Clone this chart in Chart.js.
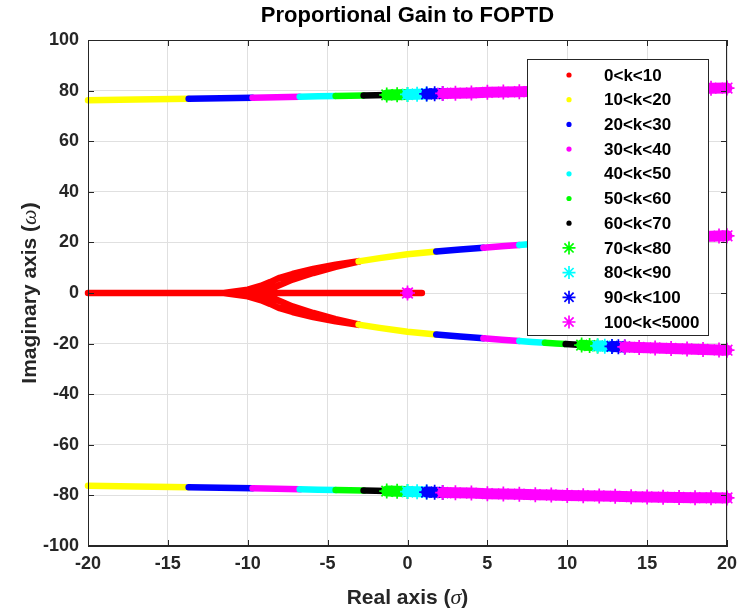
<!DOCTYPE html>
<html>
<head>
<meta charset="utf-8">
<script src="https://cdn.jsdelivr.net/npm/chart.js@4.4.1/dist/chart.umd.min.js"></script>
<style>
  html, body { margin: 0; padding: 0; background: #fff; }
</style>
</head>
<body>
<canvas id="locus" width="739" height="611"></canvas>
<script>
// k ranges and their colours (as in the legend)
const kRanges = ['0<k<10', '10<k<20', '20<k<30', '30<k<40', '40<k<50', '50<k<60',
  '60<k<70', '70<k<80', '80<k<90', '90<k<100', '100<k<5000'];
const rangeColors = ['#ff0000', '#ffff00', '#0000ff', '#ff00ff', '#00ffff', '#00ff00',
  '#000000', '#00ff00', '#00ffff', '#0000ff', '#ff00ff'];
const starFrom = 7; // from 70<k<80 on the roots are marked with '*'

const xTicks = [-20, -15, -10, -5, 0, 5, 10, 15, 20];
const yTicks = [-100, -80, -60, -40, -20, 0, 20, 40, 60, 80, 100];

// high frequency branch, upper (w ~ 78)
const topX = [-20, -17, -13.7, -11.7, -9.7, -8.2, -6.75, -5.6, -4.5, -3.6, -2.75, -2, -1.3, -0.65, 0,
  0.6, 1.2, 1.7, 2.2, 3, 4, 5, 6, 7, 8, 9, 10, 11, 12, 13, 14, 15, 16, 17, 18, 19, 20];
const topY = [76.2, 76.5, 76.8, 77.0, 77.2, 77.4, 77.6, 77.8, 77.9, 78.0, 78.1, 78.2, 78.3, 78.4, 78.5,
  78.6, 78.7, 78.8, 78.9, 79.0, 79.1, 79.3, 79.4, 79.55, 79.7, 79.85, 80.0, 80.1, 80.2, 80.35, 80.5,
  80.6, 80.7, 80.8, 80.9, 80.95, 81.0];
const topStart = 1;
const topBreaks = [-13.7, -9.7, -6.75, -4.5, -2.75, -1.3, 0, 1.2, 2.2];

// high frequency branch, lower
const botX = topX;
const botY = [-76.2, -76.5, -76.8, -77.0, -77.2, -77.4, -77.6, -77.8, -77.9, -78.0, -78.1, -78.2, -78.3, -78.4, -78.5,
  -78.6, -78.7, -78.8, -78.9, -79.0, -79.1, -79.3, -79.4, -79.55, -79.7, -79.85, -80.0, -80.1, -80.2, -80.35, -80.5,
  -80.6, -80.7, -80.8, -80.9, -80.95, -81.0];

// dominant pair leaving the real axis: the red fan (outer and inner edge of the dense part)
const fanOuterX = [-11.5, -10, -9.2, -8.6, -8, -7.2, -5.9, -4.5, -3.06];
const fanOuterUpY = [0, 1.3, 2.8, 4.3, 6.0, 7.5, 9.5, 11.2, 12.6];
const fanOuterLoY = [0, -1.3, -2.8, -4.3, -6.0, -7.5, -9.5, -11.2, -12.6];
const fanInnerX = [-10.8, -9.5, -8.6, -8, -7.2, -5.9, -4.5, -3.06];
const fanInnerUpY = [0, 0.5, 1.6, 3.2, 5.3, 7.9, 10.3, 12.4];
const fanInnerLoY = [0, -0.5, -1.6, -3.2, -5.3, -7.9, -10.3, -12.4];

// ... and the rest of the pair, from k = 10 on
const arcX = [-3.06, -1.75, 0, 1.8, 3.3, 4.75, 5.9, 7, 7.8, 8.6, 9.3, 9.9, 10.4, 10.9, 11.4, 11.9,
  12.35, 12.8, 13.2, 13.6, 14.5, 15.5, 16.5, 17.5, 18.5, 19.5, 20];
const arcUpY = [12.5, 13.8, 15.3, 16.4, 17.2, 17.9, 18.5, 19.0, 19.4, 19.7, 20.0, 20.2, 20.4, 20.6,
  20.8, 20.9, 21.0, 21.1, 21.2, 21.3, 21.5, 21.7, 21.9, 22.1, 22.3, 22.5, 22.6];
const arcLoY = [-12.5, -13.8, -15.3, -16.4, -17.2, -17.9, -18.5, -19.0, -19.4, -19.7, -20.0, -20.2, -20.4, -20.6,
  -20.8, -20.9, -21.0, -21.1, -21.2, -21.3, -21.5, -21.7, -21.9, -22.1, -22.3, -22.5, -22.6];
const arcStart = 1;
const arcBreaks = [1.8, 4.75, 7, 8.6, 9.9, 10.9, 11.9, 12.8, 13.6];

// real axis branch and the zero it ends on
const realX = [-20, -15, -10, -5, 0, 0.9];
const realY = [0, 0, 0, 0, 0, 0];
const zeroX = [0];
const zeroY = [0];

const branches = [
  { x: topX, y: topY, start: topStart, breaks: topBreaks },
  { x: botX, y: botY, start: topStart, breaks: topBreaks },
  { x: fanOuterX, y: fanOuterUpY, start: 0, breaks: [] },
  { x: fanOuterX, y: fanOuterLoY, start: 0, breaks: [] },
  { x: fanInnerX, y: fanInnerUpY, start: 0, breaks: [] },
  { x: fanInnerX, y: fanInnerLoY, start: 0, breaks: [] },
  { x: arcX, y: arcUpY, start: arcStart, breaks: arcBreaks },
  { x: arcX, y: arcLoY, start: arcStart, breaks: arcBreaks },
  { x: realX, y: realY, start: 0, breaks: [] },
  { x: zeroX, y: zeroY, start: 10, breaks: [] }
];

// split every branch into coloured pieces, one dataset per k range
const segsByRange = kRanges.map(() => []);
branches.forEach(b => {
  let r = b.start;
  let cur = [];
  b.x.forEach((xv, i) => {
    const p = { x: xv, y: b.y[i] };
    cur.push(p);
    if (b.breaks.includes(xv)) {
      segsByRange[r].push(cur);
      r++;
      cur = [p];
    }
  });
  segsByRange[r].push(cur);
});

const datasets = kRanges.map((label, r) => {
  const data = [];
  segsByRange[r].forEach((seg, i) => {
    if (i > 0) data.push({ x: null, y: null });
    seg.forEach(p => data.push(p));
  });
  const star = r >= starFrom;
  return {
    label: label,
    data: data,
    showLine: true,
    spanGaps: false,
    borderColor: rangeColors[r],
    backgroundColor: rangeColors[r],
    borderWidth: star ? 11 : 6.5,
    borderCapStyle: 'round',
    borderJoinStyle: 'round',
    pointStyle: star ? 'star' : 'circle',
    pointRadius: star ? 7.5 : 0,
    pointBorderWidth: 1.7,
    pointBorderColor: rangeColors[r],
    clip: false,
    order: 10 - r
  };
});

const tickFont = { family: '"Liberation Sans", Arial, sans-serif', size: 18, weight: 'bold' };
const GRID = '#e0e0e0';
const AXIS = '#262626';

function drawRich(c, parts, cx, cy) {
  let total = 0;
  parts.forEach(p => { c.font = p.font; p.w = c.measureText(p.t).width; total += p.w; });
  let x = cx - total / 2;
  c.textAlign = 'left';
  c.textBaseline = 'middle';
  parts.forEach(p => { c.font = p.font; c.fillText(p.t, x, cy); x += p.w; });
}

function drawStar(c, x, y, rad, color) {
  const d = rad * Math.SQRT1_2;
  c.strokeStyle = color;
  c.lineWidth = 1.7;
  c.beginPath();
  c.moveTo(x - rad, y); c.lineTo(x + rad, y);
  c.moveTo(x, y - rad); c.lineTo(x, y + rad);
  c.moveTo(x - d, y - d); c.lineTo(x + d, y + d);
  c.moveTo(x - d, y + d); c.lineTo(x + d, y - d);
  c.stroke();
}

const decorations = {
  id: 'decorations',
  afterDatasetsDraw(chart) {
    // legend box inside the axes, over the data
    const a = chart.chartArea;
    const c = chart.ctx;
    const bw = 181, bh = 276;
    const bx = Math.round(a.right) - 19 - bw, by = Math.round(a.top) + 19;
    c.save();
    c.fillStyle = '#fff';
    c.fillRect(bx, by, bw, bh);
    c.strokeStyle = AXIS;
    c.lineWidth = 1;
    c.strokeRect(bx + 0.5, by + 0.5, bw, bh);
    c.font = 'bold 17px "Liberation Sans", Arial, sans-serif';
    c.textAlign = 'left';
    c.textBaseline = 'middle';
    kRanges.forEach((label, i) => {
      const y = by + 16 + i * 24.7;
      const mx = bx + 42;
      if (i >= starFrom) {
        drawStar(c, mx, y, 6.5, rangeColors[i]);
      } else {
        c.fillStyle = rangeColors[i];
        c.beginPath();
        c.arc(mx, y, 2.6, 0, Math.PI * 2);
        c.fill();
      }
      c.fillStyle = '#000';
      c.fillText(label, bx + 77, y + 1);
    });
    c.restore();
  },
  afterDraw(chart) {
    const a = chart.chartArea;
    const c = chart.ctx;
    const xs = chart.scales.x, ys = chart.scales.y;
    c.save();
    // box
    c.strokeStyle = AXIS;
    c.lineWidth = 1;
    c.strokeRect(Math.round(a.left) + 0.5, Math.round(a.top) + 0.5,
      Math.round(a.right - a.left) - 1, Math.round(a.bottom - a.top) - 1);
    // inward ticks on all four sides
    c.beginPath();
    xTicks.forEach(v => {
      const px = Math.round(xs.getPixelForValue(v)) + 0.5;
      c.moveTo(px, a.bottom); c.lineTo(px, a.bottom - 6);
      c.moveTo(px, a.top); c.lineTo(px, a.top + 6);
    });
    yTicks.forEach(v => {
      const py = Math.round(ys.getPixelForValue(v)) + 0.5;
      c.moveTo(a.left, py); c.lineTo(a.left + 6, py);
      c.moveTo(a.right, py); c.lineTo(a.right - 6, py);
    });
    c.stroke();
    // title
    c.fillStyle = '#000';
    c.font = 'bold 22px "Liberation Sans", Arial, sans-serif';
    c.textAlign = 'center';
    c.textBaseline = 'middle';
    c.fillText('Proportional Gain to FOPTD', (a.left + a.right) / 2, 16);
    // axis titles
    c.fillStyle = AXIS;
    const lab = 'bold 21px "Liberation Sans", Arial, sans-serif';
    const grk = 'italic 22px "Liberation Serif", serif';
    drawRich(c, [{ t: 'Real axis (', font: lab }, { t: 'σ', font: grk }, { t: ')', font: lab }],
      (a.left + a.right) / 2, 598);
    c.translate(30, (a.top + a.bottom) / 2);
    c.rotate(-Math.PI / 2);
    drawRich(c, [{ t: 'Imaginary axis (', font: lab }, { t: 'ω', font: grk }, { t: ')', font: lab }], 0, 0);
    c.restore();
  }
};

new Chart(document.getElementById('locus').getContext('2d'), {
  type: 'scatter',
  data: { datasets: datasets },
  options: {
    responsive: false,
    animation: false,
    events: [],
    layout: { padding: { top: 40, right: 12, left: 0, bottom: 0 } },
    plugins: {
      legend: { display: false },
      tooltip: { enabled: false },
      title: { display: false }
    },
    scales: {
      x: {
        type: 'linear',
        min: -20,
        max: 20,
        afterBuildTicks: s => { s.ticks = xTicks.map(v => ({ value: v })); },
        afterFit: s => { s.height = 65; s.paddingLeft = 0; s.paddingRight = 0; },
        grid: { color: GRID, drawTicks: false },
        border: { display: true, color: AXIS },
        ticks: { font: tickFont, color: AXIS, padding: 7, maxRotation: 0 }
      },
      y: {
        type: 'linear',
        min: -100,
        max: 100,
        afterBuildTicks: s => { s.ticks = yTicks.map(v => ({ value: v })); },
        afterFit: s => { s.width = 88; s.paddingTop = 0; s.paddingBottom = 0; },
        grid: { color: GRID, drawTicks: false },
        border: { display: true, color: AXIS },
        ticks: { font: tickFont, color: AXIS, padding: 9 }
      }
    }
  },
  plugins: [decorations]
});
</script>
</body>
</html>
